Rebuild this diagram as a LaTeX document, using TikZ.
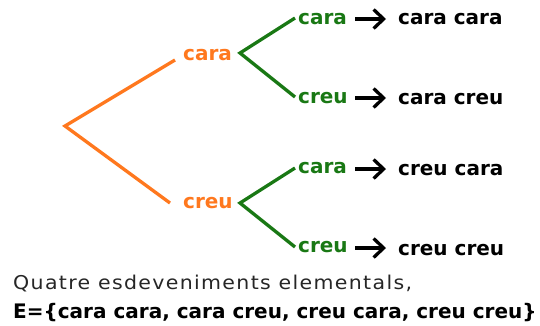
\documentclass[tikz,border=0pt]{standalone}
\usepackage{fontspec}
\setmainfont{DejaVu Sans}
\newfontfamily\widefont[FakeStretch=1.08,LetterSpace=7]{DejaVu Sans}
\usetikzlibrary{arrows.meta}
\definecolor{orng}{RGB}{255,120,30}
\definecolor{grn}{RGB}{25,120,20}
\tikzset{
  lbl/.style={font=\fontsize{20}{24}\selectfont\bfseries, inner sep=0pt, anchor=west},
  olbl/.style={lbl, text=orng},
  glbl/.style={lbl, text=grn},
  res/.style={lbl, text=black},
  oline/.style={draw=orng, line width=3.3pt, line join=miter},
  gline/.style={draw=grn, line width=3.3pt},
  arr/.style={draw=black, line width=3.3pt, -{Straight Barb[length=10pt,width=19pt,line width=3.3pt]}},
}
\begin{document}
\begin{tikzpicture}[x=1pt,y=-1pt]
\useasboundingbox (0,0) rectangle (540,325);
\coordinate (root) at (65,126);
\coordinate (oa) at (175,60);
\coordinate (ob) at (170,203);
\node[olbl] (c1) at (183,55) {cara};
\node[olbl] (c2) at (183,203) {creu};
\draw[oline] (oa) -- (root) -- (ob);

\coordinate (v1) at (240,53);
\coordinate (v2) at (240,203);
\coordinate (g1e) at (295,18);
\coordinate (g2e) at (295,97);
\coordinate (g3e) at (295,168);
\coordinate (g4e) at (295,247);
\draw[gline] (g1e) -- (v1) -- (g2e);
\draw[gline] (g3e) -- (v2) -- (g4e);

\node[glbl] (l1) at (298,19) {cara};
\node[glbl] (l2) at (298,98) {creu};
\node[glbl] (l3) at (298,168) {cara};
\node[glbl] (l4) at (298,247) {creu};

\node[res] (r1) at (398,19) {cara cara};
\node[res] (r2) at (398,99) {cara creu};
\node[res] (r3) at (398,170) {creu cara};
\node[res] (r4) at (398,250) {creu creu};

\coordinate (a1s) at (355,19); \coordinate (a1e) at (386,19);
\coordinate (a2s) at (355,98); \coordinate (a2e) at (386,98);
\coordinate (a3s) at (355,169); \coordinate (a3e) at (386,169);
\coordinate (a4s) at (355,248); \coordinate (a4e) at (386,248);
\draw[arr] (a1s) -- (a1e);
\draw[arr] (a2s) -- (a2e);
\draw[arr] (a3s) -- (a3e);
\draw[arr] (a4s) -- (a4e);

\node[anchor=west, inner sep=0pt, font=\fontsize{19}{22}\selectfont\widefont, text=black!85] (q) at (13,283) {Quatre esdeveniments elementals,};
\node[anchor=west, inner sep=0pt, font=\fontsize{20}{24}\selectfont\bfseries, text=black] (e) at (13,313) {E=\{cara cara, cara creu, creu cara, creu creu\}};
\end{tikzpicture}
\end{document}
